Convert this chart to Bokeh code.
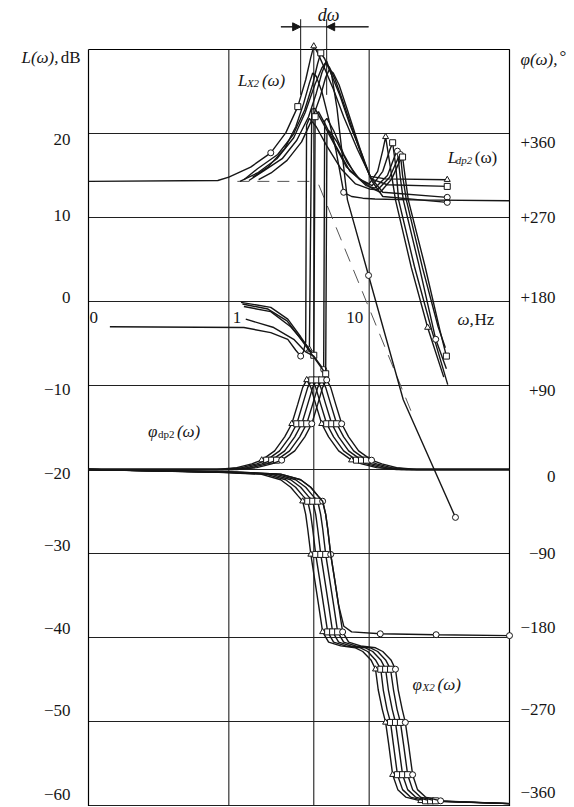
from bokeh.plotting import figure
from bokeh.models import Range1d, Label, Arrow, NormalHead
from bokeh.embed import file_html
from bokeh.resources import INLINE

# ---------------- axis / tick data ----------------
X_MIN, X_MAX = 0.1, 100          # frequency span of the chart box, Hz
L_MAX, L_MIN = 30, -60.12        # level span of the chart box, dB
L_TICKS = [20, 10, 0, -10, -20, -30, -40, -50, -60]
L_TICK_TEXT = ["20", "10", "0", "\u221210", "\u221220", "\u221230", "\u221240", "\u221250", "\u221260"]
PHI_TICKS = [360, 270, 180, 90, 0, -90, -180, -270, -360]
PHI_TICK_TEXT = ["+360", "+270", "+180", "+90", "0", "\u221290", "\u2212180", "\u2212270", "\u2212360"]
F_GRID = [1, 4.03, 10]
F_TICKS = [0.1, 1, 10]
F_TICK_TEXT = ["0", "1", "10"]

# ---------------- phase φX2(ω), degrees ----------------
PX2_VAL = [0, -3, -5, -11, -19, -28, -34, -48, -64, -91, -118, -145, -174, -185, -189, -191,
           -195, -204, -214, -236, -257, -271, -295, -327, -343, -351, -355, -358]
PX2_F0 = [0.1, 0.85, 1.69, 2.34, 2.76, 3.10, 3.36, 3.53, 3.65, 3.84, 4.09, 4.36, 4.66, 5.14, 6.27, 7.98,
          9.0, 10.3, 11.1, 11.6, 12.4, 13.1, 13.8, 14.7, 16.0, 18.2, 23.3, 100]
PX2_F1 = [0.1, 0.92, 1.83, 2.54, 2.99, 3.36, 3.65, 3.83, 3.96, 4.16, 4.44, 4.73, 5.06, 5.58, 6.80, 8.66,
          9.76, 11.1, 12.1, 12.6, 13.4, 14.2, 14.9, 15.9, 17.3, 19.7, 25.2, 100]
PX2_F2 = [0.1, 1.0, 1.99, 2.76, 3.25, 3.65, 3.96, 4.16, 4.30, 4.52, 4.82, 5.14, 5.49, 6.06, 7.38, 9.4,
          10.6, 12.1, 13.1, 13.7, 14.6, 15.4, 16.2, 17.3, 18.8, 21.4, 27.4, 100]
PX2_F3 = [0.1, 1.09, 2.16, 2.99, 3.53, 3.96, 4.30, 4.51, 4.67, 4.90, 5.23, 5.58, 5.96, 6.58, 8.01, 10.2,
          11.5, 13.1, 14.2, 14.9, 15.8, 16.7, 17.6, 18.8, 20.4, 23.2, 29.7, 100]
PX2_F4 = [0.1, 1.18, 2.34, 3.25, 3.83, 4.30, 4.66, 4.90, 5.07, 5.32, 5.68, 6.05, 6.47, 7.14, 8.69, 11.1,
          12.5, 14.3, 15.4, 16.1, 17.2, 18.1, 19.1, 20.4, 22.1, 25.2, 32.3, 100]
PX2S_F = [0.1, 1.18, 2.34, 3.25, 3.83, 4.30, 4.66, 4.90, 5.07, 5.32, 5.68, 6.05, 6.6, 7.5, 12.0, 30.0, 100]
PX2S_VAL = [0, -3, -5, -11, -19, -28, -34, -48, -64, -91, -118, -145, -168, -174, -176, -177, -178]

# ---------------- phase φdp2(ω), degrees ----------------
PD_VAL = [0, 0, 2, 6, 10, 20, 35, 49, 70, 88, 96, 88, 70, 49, 35, 20, 10, 6, 2, 0, 0]
PD_F0 = [0.1, 0.822, 1.14, 1.458, 1.715, 2.12, 2.50, 2.81, 3.10, 3.36, 3.59, 3.84, 4.16, 4.59, 5.14, 6.06,
         7.49, 8.83, 11.3, 15.7, 100]
PD_F1 = [0.1, 0.892, 1.237, 1.581, 1.86, 2.30, 2.72, 3.05, 3.36, 3.65, 3.90, 4.16, 4.51, 4.98, 5.58, 6.58,
         8.12, 9.58, 12.2, 17.0, 100]
PD_F2 = [0.1, 0.968, 1.343, 1.717, 2.02, 2.50, 2.95, 3.31, 3.65, 3.96, 4.23, 4.52, 4.90, 5.41, 6.06, 7.14,
         8.82, 10.4, 13.3, 18.5, 100]
PD_F3 = [0.1, 1.05, 1.457, 1.863, 2.19, 2.71, 3.20, 3.59, 3.96, 4.30, 4.59, 4.90, 5.32, 5.87, 6.58, 7.75,
         9.57, 11.3, 14.4, 20.1, 100]
PD_F4 = [0.1, 1.14, 1.582, 2.02, 2.38, 2.95, 3.48, 3.90, 4.30, 4.66, 4.98, 5.32, 5.77, 6.37, 7.14, 8.41,
         10.4, 12.3, 15.7, 21.8, 100]

# ---------------- amplitude LX2(ω), dB ----------------
LXA_F = [0.1, 0.835, 1.0, 1.43, 1.99, 2.55, 3.10, 3.53, 3.83, 4.03, 4.30, 4.74, 5.58, 6.58, 8.26, 10.2, 13.1, 36.0]
LXA_L = [14.3, 14.4, 14.8, 16.0, 17.7, 20.1, 23.2, 26.4, 29.0, 30.4, 29.6, 28.0, 25.2, 22.0, 18.1, 14.9, 14.6, 14.5]
LXB_F = [1.28, 1.6, 2.23, 2.86, 3.47, 3.95, 4.29, 4.52, 4.82, 5.3, 6.2, 7.3, 8.9, 10.3, 13.5, 36.0]
LXB_L = [14.5, 15.8, 17.5, 19.8, 22.8, 25.8, 28.3, 29.6, 28.9, 27.3, 24.5, 21.0, 17.5, 14.6, 13.9, 13.7]
LXC_F = [1.39, 1.75, 2.4, 3.05, 3.7, 4.2, 4.6, 4.9, 5.2, 5.7, 6.6, 7.6, 9.0, 10.2, 12.5, 36.0]
LXC_L = [14.4, 15.5, 17.0, 19.2, 22.0, 24.8, 27.2, 28.4, 27.9, 26.5, 23.5, 20.5, 17.0, 14.8, 13.0, 12.4]
LXD_F = [1.63, 2.0, 2.6, 3.3, 3.95, 4.5, 4.9, 5.2, 5.55, 6.1, 7.0, 8.0, 9.3, 10.5, 12.5, 36.0]
LXD_L = [14.5, 15.3, 16.8, 19.0, 21.8, 24.5, 26.7, 27.6, 27.2, 25.8, 22.8, 19.8, 16.5, 14.3, 12.5, 11.8]
LXE_F = [1.48, 1.9, 2.5, 3.0, 3.4, 3.75, 3.96, 4.2, 4.6, 5.1, 5.8, 6.58, 7.5, 9.0, 11.0, 20.0, 100]
LXE_L = [14.8, 16.0, 18.2, 20.8, 23.5, 26.0, 27.2, 26.8, 25.0, 22.0, 18.0, 13.0, 12.5, 12.3, 12.2, 12.1, 12.0]
LXF_F = [1.2, 1.6, 2.2, 2.9, 3.5, 4.1, 4.6, 4.98, 5.4, 5.9, 7.0, 9.9, 17.5, 41.2]
LXF_L = [14.3, 15.3, 17.0, 19.5, 22.5, 25.8, 27.8, 28.6, 27.0, 23.0, 12.1, 3.1, -11.7, -25.7]
ASYM_LOW_F = [1.15, 4.0]
ASYM_LOW_L = [14.3, 14.3]
ASYM_HIGH_F = [4.37, 20.4]
ASYM_HIGH_L = [13.9, -13.5]

# ---------------- amplitude Ldp2(ω), dB ----------------
DPA_F = [1.22, 1.99, 2.63, 3.25, 3.75, 3.9, 4.1, 4.6, 5.32, 6.9, 8.7, 10.0, 11.5, 12.5, 13.1, 14.0, 15.4, 20.0, 26.1, 34.0]
DPA_L = [-0.1, -0.7, -2.1, -4.2, -5.7, 22.9, 23.0, 21.5, 19.5, 16.0, 14.5, 14.0, 15.5, 18.0, 19.6, 16.5, 12.1, 4.0, -3.1, -9.0]
DPB_F = [1.28, 1.99, 2.76, 3.53, 4.03, 4.12, 4.35, 4.9, 5.8, 7.3, 9.0, 10.5, 12.5, 14.0, 14.7, 15.5, 16.2, 21.0, 28.0, 36.3]
DPB_L = [-0.6, -1.2, -3.0, -5.1, -6.4, 22.0, 22.6, 21.0, 18.5, 15.5, 14.3, 13.8, 15.5, 18.0, 18.9, 16.0, 12.1, 4.2, -3.5, -9.9]
DPC_F = [1.32, 2.09, 2.9, 3.53, 4.03, 4.74, 4.82, 5.0, 5.6, 6.6, 8.0, 9.5, 11.0, 13.5, 15.2, 15.9, 16.6, 17.5, 22.5, 29.8, 35.5]
DPC_L = [-2.1, -3.1, -4.5, -6.0, -6.5, -8.1, 21.5, 21.8, 20.3, 17.5, 15.0, 13.8, 13.5, 15.0, 17.3, 17.9, 15.0, 12.1, 4.5, -4.5, -8.0]
DPD_F = [0.142, 1.28, 1.99, 2.63, 3.0, 3.25, 3.4, 3.53, 3.58, 3.75, 4.2, 5.0, 6.3, 8.0, 10.0, 11.5, 14.0, 16.0, 16.7,
         17.3, 18.4, 24.0, 31.0, 34.9]
DPD_L = [-3.0, -3.1, -3.7, -4.5, -5.8, -6.5, -6.0, -4.8, 21.0, 21.8, 20.8, 18.5, 15.8, 14.0, 13.4, 13.3, 14.8, 17.0, 17.5,
         15.0, 12.1, 4.0, -3.0, -5.5]
DPE_F = [1.25, 1.9, 2.6, 3.3, 4.1, 4.9, 5.0, 5.2, 5.9, 7.0, 8.5, 10.2, 12.0, 14.5, 16.6, 17.3, 18.0, 19.0, 25.0, 32.0, 35.5]
DPE_L = [-0.3, -0.9, -2.3, -4.6, -6.8, -8.6, 20.0, 20.3, 19.0, 16.5, 14.6, 13.6, 13.0, 14.6, 16.8, 17.2, 15.0, 12.1, 4.2, -3.5, -6.5]

# resonance band dω (Hz) and the span of its dimension line (Hz)
DW_BAND = [3.25, 4.98]
DW_SPAN = [2.35, 9.9]

# ---------------- figure (the frame covers the whole canvas; the chart box is drawn) ----------------
SERIF = "Liberation Serif"
INK = "#161616"
PX_PER_DEC = 421 / 3.0
PX_PER_DB = 8.4
LEFT_PX, TOP_PX, W_PX, H_PX = 88, 49, 572, 806
x_start = 10 ** (-1 - LEFT_PX / PX_PER_DEC)
x_end = 10 ** (-1 + (W_PX - LEFT_PX) / PX_PER_DEC)
y_top = L_MAX + TOP_PX / PX_PER_DB
y_bot = L_MAX - (H_PX - TOP_PX) / PX_PER_DB

p = figure(frame_width=W_PX, frame_height=H_PX, x_axis_type="log",
           x_range=Range1d(x_start, x_end), y_range=Range1d(y_bot, y_top),
           x_axis_location=None, y_axis_location=None,
           min_border_left=0, min_border_right=0, min_border_top=0, min_border_bottom=0,
           toolbar_location=None, output_backend="svg")
p.extra_y_ranges = {"phi": Range1d((y_bot + 20) * 9, (y_top + 20) * 9)}
p.outline_line_color = None
p.background_fill_color = "white"
p.border_fill_color = "white"
p.xgrid.visible = False
p.ygrid.visible = False

GRID = "#202020"
# grid lines and chart box
p.segment(x0=F_GRID, x1=F_GRID, y0=[L_MIN] * len(F_GRID), y1=[L_MAX] * len(F_GRID), line_color=GRID, line_width=1.1)
p.segment(x0=[X_MIN] * len(L_TICKS), x1=[X_MAX] * len(L_TICKS), y0=L_TICKS, y1=L_TICKS, line_color=GRID, line_width=1.1)
p.line([X_MIN, X_MAX, X_MAX, X_MIN, X_MIN], [L_MAX, L_MAX, L_MIN, L_MIN, L_MAX], line_color="black", line_width=1.2)


def curve(f, v, rng=None, color=INK, width=1.4, dash="solid"):
    kw = {"y_range_name": rng} if rng else {}
    p.line(f, v, line_color=color, line_width=width, line_dash=dash, **kw)


def marks(f, v, idx, kind, rng=None):
    kw = {"y_range_name": rng} if rng else {}
    p.scatter([f[i] for i in idx], [v[i] for i in idx], marker=kind, size=6,
              fill_color="white", line_color=INK, line_width=1, **kw)


# phase curves
for fl, kind in zip([PX2_F0, PX2_F1, PX2_F2, PX2_F3, PX2_F4],
                    ["triangle", "square", "square", "square", "circle"]):
    curve(fl, PX2_VAL, "phi")
    marks(fl, PX2_VAL, [6, 9, 12, 18, 21, 23, 26], kind, "phi")
curve(PX2S_F, PX2S_VAL, "phi")
marks(PX2S_F, PX2S_VAL, [14, 15, 16], "circle", "phi")

for fl, kind in zip([PD_F0, PD_F1, PD_F2, PD_F3, PD_F4],
                    ["triangle", "square", "square", "square", "circle"]):
    curve(fl, PD_VAL, "phi")
    marks(fl, PD_VAL, [4, 7, 10, 13, 16], kind, "phi")

# amplitude curves
curve(ASYM_LOW_F, ASYM_LOW_L, color="#555555", width=1, dash="12 8")
curve(ASYM_HIGH_F, ASYM_HIGH_L, color="#555555", width=1, dash="14 9")
curve(LXA_F, LXA_L)
marks(LXA_F, LXA_L, [9, 17], "triangle")
marks(LXA_F, LXA_L, [4], "circle")
marks(LXA_F, LXA_L, [6], "square")
curve(LXB_F, LXB_L)
marks(LXB_F, LXB_L, [7, 15], "square")
curve(LXC_F, LXC_L)
marks(LXC_F, LXC_L, [15], "circle")
curve(LXD_F, LXD_L)
marks(LXD_F, LXD_L, [15], "circle")
curve(LXE_F, LXE_L)
marks(LXE_F, LXE_L, [11], "circle")
curve(LXF_F, LXF_L)
marks(LXF_F, LXF_L, [11, 13], "circle")

curve(DPA_F, DPA_L)
marks(DPA_F, DPA_L, [4, 14, 18], "triangle")
curve(DPB_F, DPB_L)
marks(DPB_F, DPB_L, [4, 5, 14], "square")
curve(DPC_F, DPC_L)
marks(DPC_F, DPC_L, [5, 15, 19], "circle")
curve(DPD_F, DPD_L)
marks(DPD_F, DPD_L, [5, 18], "circle")
curve(DPE_F, DPE_L)
marks(DPE_F, DPE_L, [5, 15, 20], "square")

# ---------------- tick labels ----------------
L_DY = [6, -2, -4, 4, 4, -8, -9, -11, -11]
PHI_DY = [9, 0, -4, 5, 7, 0, -10, -12, -13]
for v, t, dy in zip(L_TICKS, L_TICK_TEXT, L_DY):
    p.add_layout(Label(x=X_MIN, y=v, text=t, x_offset=-18, y_offset=-dy, text_align="right",
                       text_baseline="middle", text_font=SERIF, text_font_size="17px", text_color=INK))
for v, t, dy in zip(PHI_TICKS, PHI_TICK_TEXT, PHI_DY):
    p.add_layout(Label(x=X_MAX, y=v, y_range_name="phi", text=t, x_offset=46, y_offset=-dy, text_align="right",
                       text_baseline="middle", text_font=SERIF, text_font_size="17px", text_color=INK))
for f, t, xo, al in zip(F_TICKS, F_TICK_TEXT, [1, 4, -6], ["left", "left", "right"]):
    p.add_layout(Label(x=f, y=-1.9, text=t, x_offset=xo, text_align=al, text_baseline="middle",
                       text_font=SERIF, text_font_size="17px", text_color=INK))


def lab(x, y, text, xo=0, size="17px", style="normal", align="left", rng=None, yo=0):
    kw = {"y_range_name": rng} if rng else {}
    p.add_layout(Label(x=x, y=y, text=text, x_offset=xo, y_offset=yo, text_align=align, text_baseline="middle",
                       text_font=SERIF, text_font_size=size, text_font_style=style, text_color=INK, **kw))


# axis titles
lab(X_MIN, 29.0, "L(\u03c9),", xo=-30, style="italic", align="right")
lab(X_MIN, 29.0, "dB", xo=-8, align="right")
lab(X_MAX, 28.8, "\u03c6(\u03c9),", xo=11, style="italic")
lab(X_MAX, 28.8, "\u00b0", xo=50, yo=3)
lab(42.6, -2.1, "\u03c9,", style="italic")
lab(42.6, -2.1, "Hz", xo=17)

# curve names
lab(1.16, 26.3, "L", style="italic")
lab(1.16, 26.3, "X2", xo=9, size="11px", style="italic", yo=-2)
lab(1.16, 26.3, "(\u03c9)", xo=24, style="italic")
lab(36.3, 17.1, "L", style="italic")
lab(36.3, 17.1, "dp2", xo=8, size="11px", style="italic", yo=-2)
lab(36.3, 17.1, "(\u03c9)", xo=27)
lab(0.265, -15.5, "\u03c6", style="italic")
lab(0.265, -15.5, "dp2", xo=10, size="11px", yo=-2)
lab(0.265, -15.5, "(\u03c9)", xo=29, style="italic")
lab(20.4, -45.6, "\u03c6", style="italic")
lab(20.4, -45.6, "X2", xo=10, size="11px", style="italic", yo=-2)
lab(20.4, -45.6, "(\u03c9)", xo=25, style="italic")

# resonance band dω marker above the chart box
lab(5.15, 34.1, "d\u03c9", size="18px", style="italic", align="center")
for f in DW_BAND:
    p.add_layout(Arrow(end=None, x_start=f, y_start=33.6, x_end=f, y_end=24.6, line_color=INK, line_width=1))
p.add_layout(Arrow(end=None, x_start=DW_SPAN[0], y_start=32.7, x_end=DW_SPAN[1], y_end=32.7,
                   line_color=INK, line_width=1))
p.add_layout(Arrow(end=NormalHead(size=8, fill_color=INK, line_color=INK), x_start=DW_SPAN[0], y_start=32.7,
                   x_end=DW_BAND[0], y_end=32.7, line_color=INK, line_width=1))
p.add_layout(Arrow(end=NormalHead(size=8, fill_color=INK, line_color=INK), x_start=DW_SPAN[1], y_start=32.7,
                   x_end=DW_BAND[1], y_end=32.7, line_color=INK, line_width=1))

open("out.html", "w").write(file_html(p, INLINE))
